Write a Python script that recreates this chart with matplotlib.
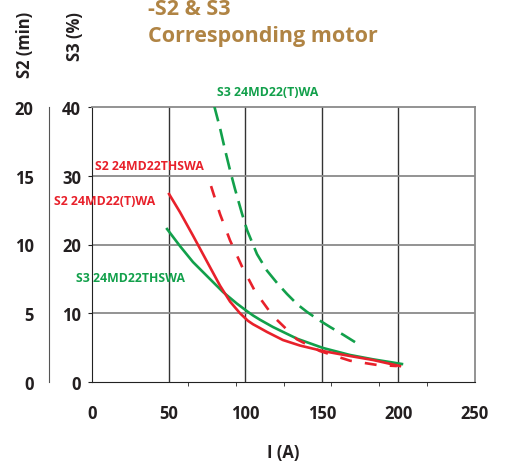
import numpy as np
import matplotlib
matplotlib.use('Agg')
import matplotlib.pyplot as plt

plt.rcParams['font.family'] = ['Open Sans', 'DejaVu Sans']

# S2 curves (minutes), S3 curves (%)
s2_twa_i = [50.3, 57.4, 65.9, 75.1, 83.6, 90.1, 96.6, 101.8, 105.1, 109.7,
            114.2, 124.7, 135.8, 150.8, 168.4, 183.4, 201]
s2_twa_t = [13.67, 12.36, 10.65, 8.75, 7.0, 5.85, 5.0, 4.45, 4.2, 3.92,
            3.64, 3.05, 2.65, 2.25, 1.89, 1.6, 1.16]

s2_thswa_i = [77.7, 83.6, 90.1, 97.9, 106.4, 118.1, 133.8, 148.8, 168.4, 186, 199]
s2_thswa_t = [14.25, 12.2, 10.3, 8.4, 6.6, 4.8, 3.1, 2.25, 1.55, 1.24, 1.16]

s3_thswa_i = [49.0, 57.4, 65.9, 77.0, 85.5, 94.6, 101.8, 105.1, 109.7, 118.1,
              133.8, 150.8, 168.4, 183.4, 202.3]
s3_thswa_p = [22.25, 19.78, 17.45, 14.98, 13.09, 11.4, 10.2, 9.68, 9.05, 8.0,
              6.3, 4.95, 3.93, 3.3, 2.62]

s3_twa_i = [79.6, 83.6, 86.8, 90.1, 93.3, 97.9, 101.2, 107.7, 114.2, 120.8,
            127.3, 134.0, 140.3, 147.5, 155.4, 163.8, 171.7]
s3_twa_p = [40.3, 36.9, 33.8, 30.8, 28.1, 24.5, 22.1, 18.6, 16.2, 14.4,
            12.8, 11.3, 10.2, 9.1, 8.0, 6.9, 5.8]

red = '#e8212b'
green = '#12a04b'
brown = '#b08444'

fig = plt.figure(figsize=(5.07, 4.64), dpi=100)
ax = fig.add_axes([92/507, 1-383/464, 383/507, 275/464])
ax2 = ax.twinx()

ax.set_xlim(0, 250)
ax.set_ylim(0, 40)
ax2.set_ylim(0, 20)

# grid
for x in [50, 100, 150, 200]:
    ax.axvline(x, color='#333333', lw=1.0, zorder=1)
for y in [10, 20, 30]:
    ax.axhline(y, color='#8a8a8a', lw=1.3, zorder=1)
for s in ['top', 'right']:
    ax.spines[s].set_color('#8a8a8a')
    ax.spines[s].set_linewidth(1.3)
ax.spines['left'].set_color('#222222')
ax.spines['bottom'].set_color('#222222')

ax.plot(s3_thswa_i, s3_thswa_p, color=green, lw=1.9, zorder=3)
ax.plot(s3_twa_i, s3_twa_p, color=green, lw=1.9, dashes=(6.4, 3), zorder=3)
ax2.plot(s2_twa_i, s2_twa_t, color=red, lw=1.9, zorder=3)
ax2.plot(s2_thswa_i, s2_thswa_t, color=red, lw=1.9, dashes=(4.5, 5), zorder=3)

tfont = dict(fontsize=12, fontweight='bold', color='#231f20')

ax.set_yticks([0, 10, 20, 30, 40])
ax.set_yticklabels(['0', '10', '20', '30', '40'], **tfont)
ax.tick_params(axis='y', length=3, pad=5, color='#222222')

ax.set_xticks([0, 50, 100, 150, 200, 250])
ax.set_xticklabels(['0', '50', '100', '150', '200', '250'], **tfont)
ax.tick_params(axis='x', length=0, pad=16)
ax.set_xticks([0, 62.5, 93.75, 125, 156.25, 187.5, 218.75, 250], minor=True)
ax.tick_params(axis='x', which='minor', length=3, color='#222222')

# outer S2 axis
ax2.spines['right'].set_visible(False)
ax2.spines['top'].set_visible(False)
ax2.spines['bottom'].set_visible(False)
ax2.spines['left'].set_visible(True)
ax2.spines['left'].set_position(('outward', 31))
ax2.spines['left'].set_color('#555555')
ax2.yaxis.set_ticks_position('left')
ax2.yaxis.set_label_position('left')
ax2.set_yticks([0, 5, 10, 15, 20])
ax2.set_yticklabels(['0', '5', '10', '15', '20'], **tfont)
ax2.tick_params(axis='y', length=0, pad=11)
ax2.set_yticks([0, 20], minor=True)
ax2.tick_params(axis='y', which='minor', length=3, color='#555555')

# curve labels
lfont = dict(fontsize=8.8, fontweight='bold')
ax.text(217/507, 1-93/464, 'S3 24MD22(T)WA', color=green, transform=fig.transFigure, va='center', **lfont)
ax.text(95/507, 1-167/464, 'S2 24MD22THSWA', color=red, transform=fig.transFigure, va='center', **lfont)
ax.text(54/507, 1-202/464, 'S2 24MD22(T)WA', color=red, transform=fig.transFigure, va='center', **lfont)
ax.text(76/507, 1-279/464, 'S3 24MD22THSWA', color=green, transform=fig.transFigure, va='center', **lfont)

# axis titles
fig.text(25/507, 1-45/464, 'S2 (min)', rotation=90, ha='center', va='center', **tfont)
fig.text(75/507, 1-37/464, 'S3 (%)', rotation=90, ha='center', va='center', **tfont)
fig.text(283/507, 1-453/464, 'I (A)', ha='center', va='center', **tfont)

# heading
hfont = dict(fontsize=15.5, fontweight='bold', color=brown)
fig.text(148/507, 1-15/464, '-S2 & S3', ha='left', va='baseline', **hfont)
fig.text(148/507, 1-42/464, 'Corresponding motor', ha='left', va='baseline', **hfont)

fig.savefig('out.png', dpi=100)
